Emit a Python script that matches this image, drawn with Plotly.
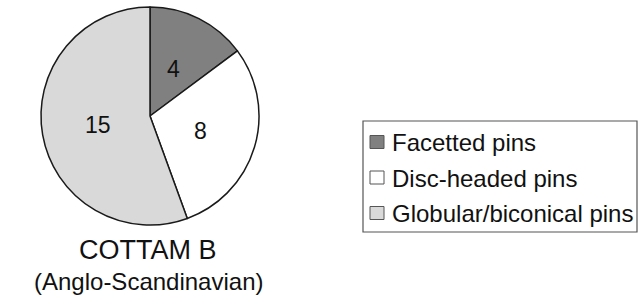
import math
import plotly.graph_objects as go

categories = ["Facetted pins", "Disc-headed pins", "Globular/biconical pins"]
counts = [4, 8, 15]
colors = ["#808080", "#ffffff", "#d9d9d9"]
title_lines = ["COTTAM B", "(Anglo-Scandinavian)"]

W, H = 639, 301
OFF = 0  # body margin removed by post_script below


def px(x):
    return (x - OFF) / W


def py(y):
    return 1 - (y - OFF) / H


FONT = "Liberation Sans, Arial, sans-serif"
INK = "#111111"

# pie geometry (screen pixels)
CX, CY, R = 150, 116, 109
dom_x = [px(CX - R), px(CX + R)]
dom_y = [max(0.0, py(CY + R)), min(1.0, py(CY - R))]

fig = go.Figure()
fig.add_trace(go.Pie(
    labels=categories,
    values=counts,
    sort=False,
    direction="clockwise",
    rotation=0,
    marker=dict(colors=colors, line=dict(color="#1a1a1a", width=1.5)),
    textinfo="none",
    domain=dict(x=dom_x, y=dom_y),
    hoverinfo="label+value",
    showlegend=False,
))

# value labels at half radius on each slice's mid-angle (computed from the data)
total = sum(counts)
cum = 0
for v in counts:
    mid = (cum + v / 2) / total * 2 * math.pi
    cum += v
    lx = CX + 0.48 * R * math.sin(mid)
    ly = CY - 0.48 * R * math.cos(mid)
    fig.add_annotation(text=str(v), x=px(lx), y=py(ly), xref="paper", yref="paper",
                       showarrow=False, xanchor="center", yanchor="middle",
                       font=dict(family=FONT, size=23, color=INK))

# caption below the pie
for line, yc, fs in zip(title_lines, [250, 281], [27, 24]):
    fig.add_annotation(text=line, x=px(148), y=py(yc), xref="paper", yref="paper",
                       showarrow=False, xanchor="center", yanchor="middle",
                       font=dict(family=FONT, size=fs, color=INK))

# legend (box, swatches, labels)
LX0, LY0, LX1, LY1 = 363, 121, 637, 232
fig.add_shape(type="rect", xref="paper", yref="paper",
              x0=px(LX0), x1=px(LX1), y0=py(LY1), y1=py(LY0),
              line=dict(color="#555555", width=1.2), fillcolor="rgba(0,0,0,0)")
row_y = [142, 177.5, 213]
for name, col, ry in zip(categories, colors, row_y):
    fig.add_shape(type="rect", xref="paper", yref="paper",
                  x0=px(370), x1=px(384), y0=py(ry + 6.5), y1=py(ry - 6.5),
                  line=dict(color="#555555", width=1), fillcolor=col)
    fig.add_annotation(text=name, x=px(390), y=py(ry + 0.5), xref="paper", yref="paper",
                       showarrow=False, xanchor="left", yanchor="middle",
                       font=dict(family=FONT, size=24, color=INK))

fig.update_layout(
    width=W, height=H,
    margin=dict(l=0, r=0, t=0, b=0),
    paper_bgcolor="white",
    plot_bgcolor="white",
    showlegend=False,
)

fig.write_html(
    "out.html",
    config={"displayModeBar": False},
    post_script="document.body.style.margin='0';document.body.style.overflow='hidden';",
)
